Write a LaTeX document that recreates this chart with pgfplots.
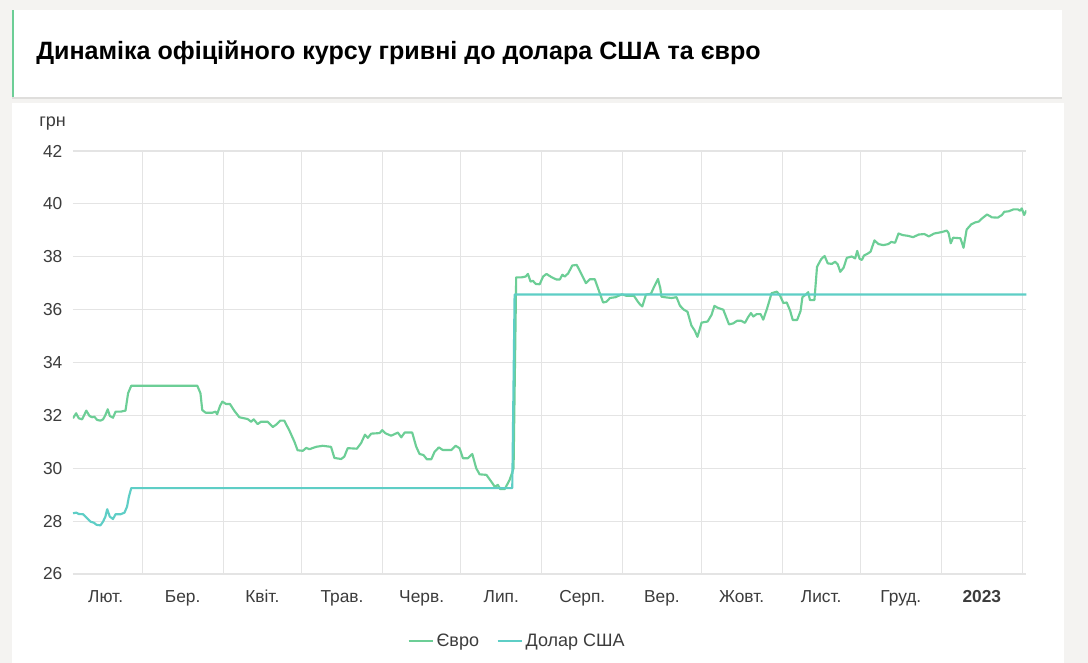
\documentclass[border=0pt]{standalone}
\usepackage{pgfplots}
\pgfplotsset{compat=1.18}
\usepackage{fontspec}
\setmainfont{Liberation Sans}
\usetikzlibrary{shadows}
\definecolor{euro}{RGB}{108,206,150}
\definecolor{usd}{RGB}{94,206,198}
\definecolor{bggray}{RGB}{244,243,241}
\definecolor{gridc}{RGB}{228,228,228}
\definecolor{ticktext}{RGB}{60,60,60}

\pgfplotstableread{
d v
1.5 31.89
2.7 32.08
3.7 31.89
5.0 31.85
6.6 32.18
7.8 31.98
8.8 31.93
9.7 31.95
10.7 31.83
12.0 31.80
13.0 31.85
13.9 32.01
14.8 32.23
15.6 31.98
16.8 31.91
17.8 32.14
19.7 32.14
21.6 32.18
22.6 32.84
23.8 33.12
49.1 33.12
50.3 32.84
51.0 32.20
52.3 32.10
54.8 32.10
56.1 32.14
56.7 32.04
57.8 32.36
58.7 32.52
60.1 32.43
61.6 32.43
63.3 32.17
65.2 31.93
68.4 31.86
69.7 31.76
70.7 31.85
72.2 31.67
73.5 31.76
76.0 31.76
78.0 31.56
79.3 31.65
80.8 31.80
82.4 31.80
84.4 31.42
86.3 31.00
87.5 30.68
89.5 30.66
90.8 30.77
92.0 30.72
94.6 30.81
97.1 30.85
100.3 30.81
101.6 30.39
104.2 30.35
105.4 30.44
106.7 30.76
110.2 30.74
111.8 30.95
113.3 31.27
114.4 31.15
115.7 31.31
118.9 31.33
119.9 31.44
121.2 31.32
123.3 31.23
125.9 31.35
127.2 31.17
128.5 31.35
131.4 31.35
132.9 30.82
134.2 30.54
135.7 30.50
137.0 30.34
138.7 30.34
140.0 30.63
141.6 30.79
143.1 30.69
146.4 30.69
148.0 30.85
149.5 30.76
150.8 30.38
152.7 30.38
154.4 30.54
155.9 30.00
157.2 29.77
159.8 29.75
161.7 29.49
163.0 29.30
164.2 29.37
165.1 29.21
166.8 29.21
168.7 29.56
170.2 30.00
171.2 37.22
173.2 37.22
174.8 37.25
175.7 37.35
176.7 37.06
177.6 37.09
178.7 36.97
180.2 36.96
181.5 37.25
182.8 37.35
184.7 37.23
186.6 37.14
187.9 37.14
188.9 37.32
189.8 37.25
191.1 37.37
192.7 37.67
194.4 37.69
196.2 37.34
197.9 37.00
199.4 37.15
201.3 37.15
203.0 36.68
204.5 36.27
205.8 36.30
207.1 36.44
209.2 36.47
211.7 36.58
213.5 36.52
216.3 36.52
217.8 36.30
218.6 36.20
219.5 36.12
220.9 36.57
222.8 36.60
223.9 36.84
225.5 37.16
226.4 36.81
226.8 36.49
228.8 36.46
230.7 36.44
232.6 36.47
233.9 36.15
235.4 36.00
236.8 35.92
238.3 35.40
239.6 35.20
240.6 34.97
241.6 35.30
242.2 35.51
244.5 35.55
246.0 35.80
247.1 36.14
248.6 36.06
250.5 36.00
251.8 35.67
252.7 35.44
254.3 35.48
255.8 35.58
257.3 35.58
258.8 35.50
260.1 35.73
261.1 35.87
262.0 35.74
263.3 35.83
264.8 35.83
265.8 35.62
267.3 36.05
269.0 36.62
271.0 36.68
272.2 36.54
273.5 36.25
274.8 36.27
276.1 35.96
277.1 35.61
278.8 35.61
280.1 35.95
280.8 36.47
282.2 36.58
283.0 36.66
283.7 36.36
285.4 36.36
286.4 37.62
288.0 37.91
289.3 38.03
290.5 37.75
292.1 37.73
293.3 37.81
294.3 37.72
295.3 37.43
296.6 37.59
297.8 37.96
299.7 38.01
301.0 37.94
301.8 38.22
302.7 37.92
303.6 37.88
304.4 38.05
305.5 38.10
306.9 38.19
308.4 38.62
309.9 38.48
311.8 38.44
313.7 38.48
314.8 38.56
316.3 38.53
317.6 38.88
319.2 38.82
321.3 38.79
323.2 38.74
325.3 38.84
327.5 38.86
329.2 38.77
331.3 38.88
334.0 38.93
336.1 38.99
336.8 38.89
337.6 38.51
338.5 38.72
341.3 38.70
342.5 38.34
343.7 39.03
345.5 39.23
347.0 39.30
348.3 39.33
349.6 39.45
351.5 39.60
353.4 39.49
355.6 39.48
357.2 39.58
358.1 39.70
359.8 39.72
361.6 39.79
363.3 39.79
364.2 39.74
364.8 39.83
365.7 39.58
366.6 39.75
}\euro

\pgfplotstableread{
d v
1.5 28.30
2.8 28.32
3.7 28.27
5.4 28.26
6.9 28.11
8.2 27.98
9.5 27.94
10.5 27.86
12.0 27.84
13.0 27.98
13.9 28.17
14.6 28.45
15.6 28.17
16.8 28.08
17.8 28.26
19.7 28.26
21.2 28.32
22.2 28.55
22.9 28.92
23.8 29.25
169.7 29.25
170.6 36.57
366.6 36.57
}\usd

\begin{document}
\begin{tikzpicture}
\begin{scope}[x=0.75pt,y=-0.75pt]
  \fill[bggray] (0,0) rectangle (1088,663);
  \useasboundingbox (0,0) rectangle (1088,663);
  % chart card
  \fill[white, drop shadow={opacity=0.12, shadow xshift=0pt, shadow yshift=-1pt}] (12,103) rectangle (1064,675);
  % title card
  \fill[white, drop shadow={opacity=0.18, shadow xshift=0pt, shadow yshift=-1.5pt}] (12,10) rectangle (1062,97);
  \fill[euro] (12,10) rectangle (13.5,97);
  \node[anchor=west, inner sep=0pt, font=\fontsize{18.8}{22}\selectfont\bfseries] at (36,53) {Динаміка офіційного курсу гривні до долара США та євро};
  \node[anchor=west, inner sep=0pt, font=\fontsize{13.5}{15}\selectfont, text=ticktext] at (39,124) {грн};
\end{scope}
\begin{axis}[
  at={(54.75pt,-430.5pt)}, anchor=south west,
  scale only axis, width=715.1pt, height=317.25pt,
  xmin=1.5, xmax=366.6, ymin=26, ymax=42,
  ytick={26,28,...,42},
  xtick={14,43.5,74,104.5,135,165.5,196.5,227,257.5,288,318.5,349.5},
  xticklabels={Лют.,Бер.,Квіт.,Трав.,Черв.,Лип.,Серп.,Вер.,Жовт.,Лист.,Груд.,\textbf{2023}},
  extra x ticks={28,59,89,120,150,181,212,242,273,303,334,365},
  extra x tick labels={},
  extra x tick style={grid=major},
  xmajorgrids=false,
  ymajorgrids=true,
  grid style={gridc, line width=0.8pt},
  axis line style={draw=none},
  major tick length=0pt,
  tick label style={font=\fontsize{13}{15}\selectfont, text=ticktext},
  /pgf/number format/assume math mode=true,
  xticklabel style={yshift=-8.5pt, text height=9.5pt, text depth=3pt},
  yticklabel style={xshift=-4.5pt},
  legend style={at={(0.466,-0.158)}, anchor=center, draw=none, fill=none,
    legend columns=2, font=\fontsize{13.5}{15}\selectfont, text=ticktext,
    /tikz/every even column/.append style={column sep=11pt}},
  legend image code/.code={\draw[#1, line width=2pt] (0pt,0pt) -- (18pt,0pt);},
]
\addplot[euro, line width=1.6pt, line join=round] table[x=d,y=v] {\euro};
\addlegendentry{Євро}
\addplot[usd, line width=1.6pt, line join=round] table[x=d,y=v] {\usd};
\addlegendentry{Долар США}
\end{axis}
\end{tikzpicture}
\end{document}
